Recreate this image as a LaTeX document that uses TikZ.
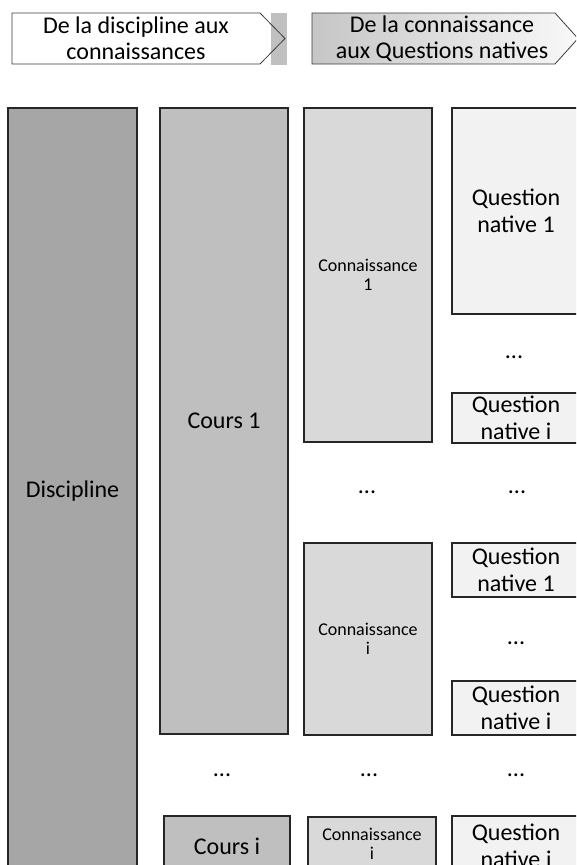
\documentclass[tikz,border=0pt]{standalone}
\usepackage{fontspec}
\setmainfont{Carlito}
\usetikzlibrary{positioning}
\definecolor{discGrey}{HTML}{A6A6A6}
\definecolor{coursGrey}{HTML}{BFBFBF}
\definecolor{connGrey}{HTML}{D9D9D9}
\definecolor{questGrey}{HTML}{F2F2F2}
\definecolor{barGrey}{HTML}{C0C0C0}
\definecolor{edgeInk}{HTML}{262626}
\tikzset{
  box/.style     = {draw=edgeInk, line width=1.3pt, inner sep=0pt, outer sep=0pt,
                    align=center, minimum width=128pt, font=\fontsize{24}{27}\selectfont},
  disc/.style    = {box, fill=discGrey},
  cours/.style   = {box, fill=coursGrey},
  conn/.style    = {box, fill=connGrey, font=\fontsize{18}{19}\selectfont},
  quest/.style   = {box, fill=questGrey},
  dots/.style    = {inner sep=0pt, font=\fontsize{24}{27}\selectfont},
  hdr/.style     = {draw=edgeInk!90, line width=0.8pt},
  hdrtext/.style = {align=center, inner sep=0pt, font=\fontsize{24}{26}\selectfont}
}
\begin{document}
\begin{tikzpicture}[x=1pt, y=-1pt]
  \useasboundingbox (0,0) rectangle (576,865);
  \clip (0,0) rectangle (576,865);

  % the two step arrows on top
  \fill[barGrey] (271,13) rectangle (287,65);
  \draw[hdr] (12,13) -- (260,13) -- (285,38.5) -- (260,64) -- (12,64) -- cycle;
  \node[hdrtext] (step1) at (136,38.5) {De la discipline aux\\connaissances};
  \draw[hdr, left color=gray!45, right color=gray!5]
    (312,13) -- (555,13) -- (578,38.5) -- (555,64) -- (312,64) -- cycle;
  \node[hdrtext] (step2) at (442,38.5) {De la connaissance\\aux Questions natives};

  % discipline and courses
  \node[disc, minimum width=129pt, minimum height=767pt] (disc) at (72.5,491.5) {Discipline};
  \node[cours, minimum height=626pt] (cours1) at (224,421) {Cours 1};
  \node[cours, minimum width=126pt, minimum height=60pt, below=82pt of cours1, xshift=3pt] (coursi) {Cours i};

  % knowledge
  \node[conn, minimum height=334pt] (conn1) at (368,275) {Connaissance\\1};
  \node[conn, minimum height=192pt, below=101pt of conn1] (conni) {Connaissance\\i};
  \node[conn, minimum height=53pt, below=82pt of conni, xshift=4pt] (connj) {Connaissance\\i};

  % native questions
  \node[quest, minimum height=206pt] (qn1) at (516,211) {Question\\native 1};
  \node[quest, minimum height=50pt, below=79pt of qn1] (qni) {Question\\native i};
  \node[quest, minimum height=54pt, below=100pt of qni] (qn1b) {Question\\native 1};
  \node[quest, minimum height=54pt, below=84pt of qn1b] (qnib) {Question\\native i};
  \node[quest, minimum height=64pt, below=81pt of qnib] (qnj) {Question\\native j};

  % ellipses
  \node[dots] (dq1) at (514,357) {...};
  \node[dots] (dk1) at (367,492) {...};
  \node[dots] (dq2) at (517,492) {...};
  \node[dots] (dq3) at (516,643) {...};
  \node[dots] (dc4) at (222,775) {...};
  \node[dots] (dk4) at (369,775) {...};
  \node[dots] (dq4) at (516,775) {...};
\end{tikzpicture}
\end{document}
